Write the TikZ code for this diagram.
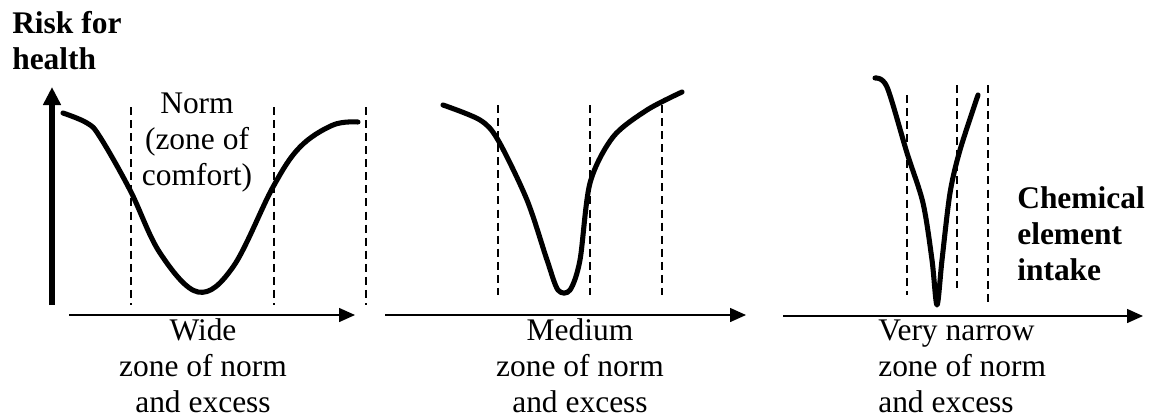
\documentclass[tikz,border=0pt]{standalone}
\usepackage{fontspec}
\setmainfont{Liberation Serif}
\usetikzlibrary{arrows.meta}
\begin{document}
\begin{tikzpicture}[x=0.75pt,y=-0.75pt,
  lbl/.style={inner sep=0pt,font=\fontsize{23.6}{27}\selectfont},
  blbl/.style={lbl,font=\fontsize{23.6}{27}\selectfont\bfseries},
  curve/.style={line width=3.8pt,line cap=round,line join=round},
  zone/.style={line width=1pt,dash pattern=on 6pt off 3.8pt},
  xaxis/.style={line width=1.1pt,-{Triangle[length=12pt,width=10.5pt]}},
  yaxis/.style={line width=4.5pt,-{Triangle[length=13.5pt,width=12.75pt]}}]
\useasboundingbox (0,0) rectangle (1152,419);
% axes
\coordinate (y0) at (52,305); \coordinate (y1) at (52,87);
\draw[yaxis] (y0) -- (y1);
\coordinate (a0) at (69,315); \coordinate (a1) at (355,315);
\coordinate (b0) at (385,315); \coordinate (b1) at (746,315);
\coordinate (c0) at (783,316); \coordinate (c1) at (1143,316);
\draw[xaxis] (a0) -- (a1);
\draw[xaxis] (b0) -- (b1);
\draw[xaxis] (c0) -- (c1);
% dashed zone lines
\foreach \x in {131,274,366} \draw[zone] (\x,107) -- (\x,305);
\foreach \x in {498,590,662} \draw[zone] (\x,105) -- (\x,295);
\draw[zone] (907,95) -- (907,295);
\draw[zone] (957,85) -- (957,288);
\draw[zone] (988,85) -- (988,302);
% curves
\draw[curve] plot[smooth,tension=0.6] coordinates {(63,113) (87,123) (100,137) (130,190) (160,253) (198,292) (233,267) (273,187) (300,147) (333,125) (358,122)};
\draw[curve] plot[smooth,tension=0.5] coordinates {(443,105) (480,120) (498,140) (527,200) (547,260) (558,290) (570,290) (580,260) (590,183) (613,137) (647,110) (682,92)};
\draw[curve] plot[smooth,tension=0.5] coordinates {(875,78) (887,87) (907,153) (923,203) (932,260) (937,305) (942,260) (950,193) (960,150) (978,95)};
% texts
\node[blbl,anchor=base west,align=left] (risk) at (12,69) {Risk for\\health};
\node[lbl,anchor=base,align=center] (norm) at (197,185) {Norm\\(zone of\\comfort)};
\node[lbl,anchor=base,align=center] (wide) at (203,412) {Wide\\zone of norm\\and excess};
\node[lbl,anchor=base,align=center] (medium) at (580,412) {Medium\\zone of norm\\and excess};
\node[lbl,anchor=base west,align=left] (narrow) at (878,412) {Very narrow\\zone of norm\\and excess};
\node[blbl,anchor=base west,align=left] (chem) at (1017,280) {Chemical\\element\\intake};
\end{tikzpicture}
\end{document}
